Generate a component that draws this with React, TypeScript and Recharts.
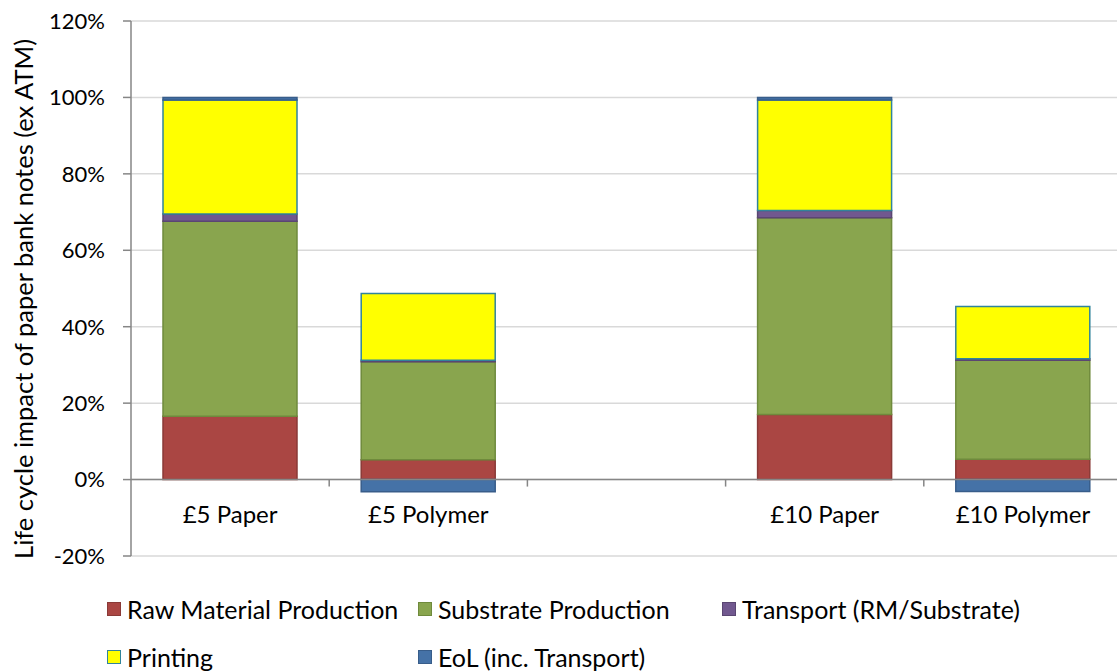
import React from "react";
import {
  BarChart,
  Bar,
  XAxis,
  YAxis,
  CartesianGrid,
  ReferenceLine,
} from "recharts";

// Share of the paper note's life cycle impact, per stage (%)
const categories = ["£5 Paper", "£5 Polymer", "", "£10 Paper", "£10 Polymer"];
const rawMaterial = [16.6, 5.2, null, 17.0, 5.3];
const substrate = [51.0, 25.6, null, 51.5, 25.9];
const transport = [1.9, 0.4, null, 1.9, 0.4];
const printing = [29.8, 17.5, null, 28.9, 13.7];
const endOfLife = [0.7, -3.2, null, 0.7, -3.1];

const yTicks = [-20, 0, 20, 40, 60, 80, 100, 120];

const series = [
  { key: "raw", name: "Raw Material Production", fill: "#AA4643", stroke: "#8A3A37" },
  { key: "substrate", name: "Substrate Production", fill: "#89A54E", stroke: "#6F8A3C" },
  { key: "transport", name: "Transport (RM/Substrate)", fill: "#71588F", stroke: "#5A4672" },
  { key: "printing", name: "Printing", fill: "#FFFF00", stroke: "#31849B" },
  { key: "eol", name: "EoL (inc. Transport)", fill: "#4572A7", stroke: "#385D8A" },
];

const data = categories.map((name, i) => ({
  name,
  raw: rawMaterial[i],
  substrate: substrate[i],
  transport: transport[i],
  printing: printing[i],
  eol: endOfLife[i],
}));

const FONT = "Lato, 'Open Sans', sans-serif";
const WIDTH = 1122;
const HEIGHT = 590;
const TOP = 21;
const AXIS_W = 131;
const X_AXIS_H = 34;
const PLOT_H = HEIGHT - TOP - X_AXIS_H;
const Y_MIN = -20;
const Y_MAX = 120;
// pixel row of the 0% line, where the category axis sits
const zeroY = TOP + (PLOT_H * Y_MAX) / (Y_MAX - Y_MIN);

const CategoryTick = (props: any) => {
  const { x, payload, index } = props;
  const half = payload.offset ?? (WIDTH - AXIS_W) / categories.length / 2;
  return (
    <g>
      {index > 0 && (
        <line x1={x - half} x2={x - half} y1={zeroY} y2={zeroY + 7} stroke="#868686" strokeWidth={1.5} />
      )}
      {index === categories.length - 1 && (
        <line x1={x + half} x2={x + half} y1={zeroY} y2={zeroY + 7} stroke="#868686" strokeWidth={1.5} />
      )}
      <text x={x} y={zeroY + 43} textAnchor="middle" fill="#000" fontSize={24} fontFamily={FONT}>
        {payload.value}
      </text>
    </g>
  );
};

const AxisTitle = (props: any) => {
  const cx = 23;
  const cy = 299;
  return (
    <text
      x={cx}
      y={cy}
      transform={`rotate(-90 ${cx} ${cy})`}
      textAnchor="middle"
      dominantBaseline="central"
      fill="#000"
      fontSize={25.5}
      fontFamily={FONT}
    >
      Life cycle impact of paper bank notes (ex ATM)
    </text>
  );
};

const legendRows = [
  [series[0], series[1], series[2]],
  [series[3], series[4]],
];
const legendCols = [107, 418, 722];

export default function App() {
  return (
    <div style={{ position: "absolute", left: 0, top: 0, width: 1117, height: 672, overflow: "hidden", background: "#fff" }}>
      <BarChart
        width={WIDTH}
        height={HEIGHT}
        data={data}
        stackOffset="sign"
        barSize={134}
        margin={{ top: TOP, right: 0, left: 0, bottom: 0 }}
      >
        <CartesianGrid vertical={false} stroke="#D9D9D9" strokeWidth={1.5} />
        <XAxis
          dataKey="name"
          height={X_AXIS_H}
          axisLine={false}
          tickLine={false}
          interval={0}
          tick={<CategoryTick />}
        />
        <YAxis
          width={AXIS_W}
          domain={[Y_MIN, Y_MAX]}
          ticks={yTicks}
          interval={0}
          tickFormatter={(v) => `${v}%`}
          axisLine={{ stroke: "#868686", strokeWidth: 1.5 }}
          tickLine={{ stroke: "#868686", strokeWidth: 1.5 }}
          tickSize={8}
          tickMargin={18}
          tick={{ fill: "#000", fontSize: 22, fontFamily: FONT }}
          label={{ content: <AxisTitle /> }}
        />
        {series.map((s) => (
          <Bar
            key={s.key}
            dataKey={s.key}
            name={s.name}
            stackId="notes"
            fill={s.fill}
            stroke={s.stroke}
            strokeWidth={1.5}
            isAnimationActive={false}
          />
        ))}
        <ReferenceLine y={0} stroke="#868686" strokeWidth={1.5} />
      </BarChart>
      {legendRows.map((row, r) => (
        <div key={r}>
          {row.map((s, c) => (
            <div
              key={s.key}
              style={{
                position: "absolute",
                left: legendCols[c],
                top: 594 + r * 48,
                display: "flex",
                alignItems: "center",
                fontFamily: FONT,
                fontSize: 25,
                color: "#000",
                whiteSpace: "nowrap",
              }}
            >
              <span
                style={{
                  display: "inline-block",
                  width: 12,
                  height: 12,
                  background: s.fill,
                  border: `1.5px solid ${s.stroke}`,
                  marginRight: 6,
                }}
              />
              {s.name}
            </div>
          ))}
        </div>
      ))}
    </div>
  );
}
